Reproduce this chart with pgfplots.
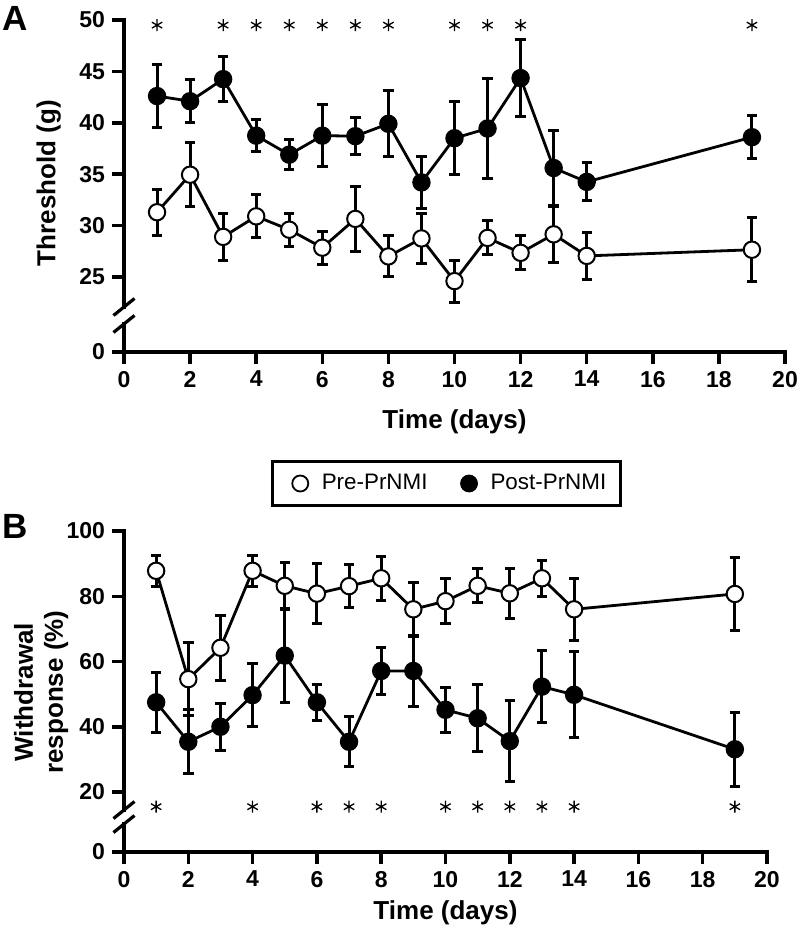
\documentclass[border=0pt]{standalone}
\usepackage{fontspec}
\setmainfont{Liberation Sans}
\usepackage{pgfplots}
\usepackage{pgfplotstable}
\pgfplotsset{compat=1.18}

% Panel A: Threshold (g)
\pgfplotstableread{
x y e
1 31.3 2.25
2 34.95 3.1
3 28.9 2.25
4 30.9 2.1
5 29.6 1.6
6 27.85 1.6
7 30.65 3.15
8 27.0 2.0
9 28.75 2.45
10 24.6 2.05
11 28.8 1.65
12 27.35 1.65
13 29.15 2.75
14 27.05 2.25
19 27.65 3.1
}\preA
\pgfplotstableread{
x y e
1 42.6 3.1
2 42.1 2.1
3 44.25 2.2
4 38.75 1.55
5 36.9 1.45
6 38.75 3.0
7 38.7 1.8
8 39.9 3.2
9 34.2 2.5
10 38.5 3.55
11 39.45 4.85
12 44.35 3.75
13 35.6 3.65
14 34.25 1.85
19 38.6 2.1
}\postA
% Panel B: Withdrawal response (%)
\pgfplotstableread{
x y e
1 87.8 4.8
2 54.6 11.3
3 64.2 10.0
4 87.8 4.8
5 83.2 7.2
6 80.8 9.3
7 83.1 6.5
8 85.5 6.8
9 76.0 8.2
10 78.5 7.0
11 83.2 5.2
12 80.9 7.7
13 85.5 5.6
14 76.0 9.5
19 80.7 11.2
}\preB
\pgfplotstableread{
x y e
1 47.5 9.2
2 35.4 9.8
3 40.0 7.2
4 49.7 9.6
5 61.8 14.3
6 47.5 5.6
7 35.4 7.6
8 57.1 7.2
9 57.1 10.9
10 45.2 6.9
11 42.6 10.2
12 35.6 12.3
13 52.3 11.1
14 49.8 13.2
19 33.1 11.4
}\postB

\pgfplotsset{
  base/.style={
    scale only axis, clip=false,
    axis x line*=bottom, axis y line*=left,
    xmin=0, xmax=20,
    xtick={0,2,4,6,8,10,12,14,16,18,20},
    xticklabels={0,2,4,6,8,10,12,14,16,18,20},
    tick align=outside, major tick length=6pt,
    tick style={black, line width=1.75pt},
    x axis line style={line width=1.75pt, line cap=rect},
    y axis line style={draw=none},
    ticklabel style={font=\bfseries\fontsize{11.5}{12}\selectfont},
    label style={font=\bfseries\fontsize{13}{15}\selectfont},
    xlabel={Time (days)},
  },
  eb/.style={error bars/.cd, y dir=both, y explicit,
    error bar style={line width=1.5pt, black},
    error mark options={rotate=90, mark size=2.6pt, line width=1.5pt, black},
    /pgfplots/.cd},
  preS/.style={black, line width=1.4pt, mark=*, mark size=4.1pt,
    mark options={fill=white, draw=black, line width=1pt}},
  postS/.style={black, line width=1.4pt, mark=*, mark size=4.1pt,
    mark options={fill=black, draw=black, line width=1pt}},
  star/.style={only marks, mark=asterisk, mark size=3pt,
    mark options={line width=0.65pt, black}},
}

\begin{document}
\begin{tikzpicture}
\path[use as bounding box] (0,0) rectangle (400pt,-466.5pt);

\node[anchor=base west, inner sep=0pt, font=\bfseries\fontsize{17.5}{18}\selectfont] at (1pt,-15pt) {A};
\node[anchor=base west, inner sep=0pt, font=\bfseries\fontsize{17.5}{18}\selectfont] at (1pt,-269pt) {B};

% ---------- Panel A ----------
\begin{axis}[base,
  at={(62pt,-176pt)}, anchor=south west,
  width=330.5pt, height=166pt,
  ymin=17.7, ymax=50,
  ytick={17.7,25,30,35,40,45,50},
  yticklabels={0,25,30,35,40,45,50},
  xlabel style={at={(axis description cs:0.5,0)}, anchor=base, yshift=-38.3pt},
  ylabel={Threshold (g)},
  ylabel style={at={(axis description cs:-0.114,0.509)}, anchor=center},
]
\draw[line width=1.75pt, line cap=rect] (axis cs:0,50) -- (axis cs:0,22.08);
\draw[line width=1.75pt, line cap=rect] (axis cs:0,20.43) -- (axis cs:0,17.7);
\draw[line width=1.6pt] (axis cs:0,22.08) ++(-5.25pt,-4.25pt) -- ++(10.5pt,8.5pt);
\draw[line width=1.6pt] (axis cs:0,20.43) ++(-5.25pt,-4.25pt) -- ++(10.5pt,8.5pt);
\addplot[preS, eb] table[x=x, y=y, y error=e] {\preA};
\addplot[postS, eb] table[x=x, y=y, y error=e] {\postA};
\addplot[star] coordinates {(1,49.5) (3,49.5) (4,49.5) (5,49.5) (6,49.5) (7,49.5) (8,49.5) (10,49.5) (11,49.5) (12,49.5) (19,49.5)};
\end{axis}

% ---------- Panel B ----------
\begin{axis}[base,
  at={(62pt,-426pt)}, anchor=south west,
  width=321.5pt, height=160.5pt,
  ymin=1.61, ymax=100,
  ytick={1.61,20,40,60,80,100},
  yticklabels={0,20,40,60,80,100},
  xlabel style={at={(axis description cs:0.5,0)}, anchor=base, yshift=-33.8pt},
  ylabel={Withdrawal\\response (\%)},
  ylabel style={at={(axis description cs:-0.129,0.498)}, anchor=center, align=center},
  legend columns=2,
  legend style={at={(axis description cs:0.5016,1.148)}, anchor=center,
    draw=black, line width=1.5pt, inner xsep=5pt, inner ysep=4.5pt,
    font=\fontsize{11.2}{13}\selectfont,
    /tikz/every even column/.append style={column sep=10pt}},
  legend image code/.code={\path (-8pt,0pt) (8pt,0pt); \draw[#1, line width=0.9pt] plot coordinates {(0pt,0pt)};},
]
\draw[line width=1.75pt, line cap=rect] (axis cs:0,100) -- (axis cs:0,14.48);
\draw[line width=1.75pt, line cap=rect] (axis cs:0,10.19) -- (axis cs:0,1.61);
\draw[line width=1.6pt] (axis cs:0,14.48) ++(-5.25pt,-4.25pt) -- ++(10.5pt,8.5pt);
\draw[line width=1.6pt] (axis cs:0,10.19) ++(-5.25pt,-4.25pt) -- ++(10.5pt,8.5pt);
\addlegendimage{only marks, mark=*, mark size=4pt, mark options={fill=white, draw=black}}
\addlegendentry{Pre-PrNMI}
\addlegendimage{only marks, mark=*, mark size=4pt, mark options={fill=black, draw=black}}
\addlegendentry{Post-PrNMI}
\addplot[forget plot, preS, eb] table[x=x, y=y, y error=e] {\preB};
\addplot[forget plot, postS, eb] table[x=x, y=y, y error=e] {\postB};
\addplot[forget plot, star] coordinates {(1,15.5) (4,15.5) (6,15.5) (7,15.5) (8,15.5) (10,15.5) (11,15.5) (12,15.5) (13,15.5) (14,15.5) (19,15.5)};
\end{axis}
\end{tikzpicture}
\end{document}
